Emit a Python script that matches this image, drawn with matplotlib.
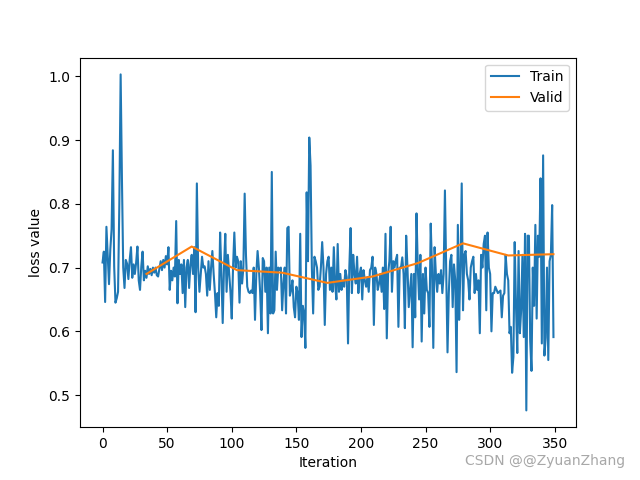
import matplotlib
matplotlib.use("Agg")
import matplotlib.pyplot as plt
import numpy as np

# ----- data ----------------------------------------------------------------
train_loss = [
    0.708, 0.725, 0.646, 0.764, 0.718, 0.674, 0.728, 0.760, 0.884, 0.702,
    0.645, 0.652, 0.662, 0.800, 1.003, 0.840, 0.700, 0.668, 0.712, 0.706,
    0.682, 0.712, 0.732, 0.684, 0.705, 0.690, 0.708, 0.733, 0.680, 0.665,
    0.702, 0.725, 0.680, 0.695, 0.684, 0.702, 0.690, 0.698, 0.688, 0.700,
    0.692, 0.700, 0.688, 0.686, 0.698, 0.710, 0.696, 0.712, 0.700, 0.718,
    0.705, 0.732, 0.665, 0.695, 0.680, 0.700, 0.686, 0.773, 0.644, 0.712,
    0.690, 0.705, 0.660, 0.712, 0.638, 0.700, 0.712, 0.668, 0.705, 0.720,
    0.690, 0.732, 0.630, 0.832, 0.700, 0.662, 0.690, 0.717, 0.700, 0.702,
    0.690, 0.656, 0.710, 0.665, 0.700, 0.726, 0.690, 0.660, 0.622, 0.660,
    0.640, 0.755, 0.690, 0.613, 0.700, 0.753, 0.662, 0.720, 0.690, 0.662,
    0.620, 0.700, 0.755, 0.700, 0.717, 0.710, 0.645, 0.710, 0.675, 0.700,
    0.816, 0.720, 0.670, 0.662, 0.660, 0.664, 0.660, 0.700, 0.618, 0.690,
    0.726, 0.700, 0.660, 0.602, 0.715, 0.710, 0.662, 0.700, 0.597, 0.700,
    0.628, 0.850, 0.628, 0.633, 0.725, 0.665, 0.700, 0.696, 0.700, 0.633,
    0.675, 0.700, 0.628, 0.762, 0.764, 0.656, 0.665, 0.680, 0.638, 0.622,
    0.670, 0.660, 0.618, 0.753, 0.591, 0.640, 0.628, 0.574, 0.818, 0.710,
    0.904, 0.860, 0.700, 0.628, 0.717, 0.710, 0.700, 0.665, 0.670, 0.700,
    0.740, 0.700, 0.610, 0.690, 0.710, 0.717, 0.665, 0.700, 0.662, 0.732,
    0.675, 0.650, 0.737, 0.662, 0.690, 0.665, 0.680, 0.670, 0.696, 0.685,
    0.581, 0.700, 0.762, 0.660, 0.720, 0.690, 0.675, 0.717, 0.660, 0.690,
    0.700, 0.650, 0.696, 0.680, 0.670, 0.685, 0.662, 0.696, 0.700, 0.717,
    0.610, 0.700, 0.690, 0.665, 0.675, 0.690, 0.662, 0.700, 0.635, 0.753,
    0.589, 0.690, 0.710, 0.764, 0.662, 0.710, 0.700, 0.712, 0.720, 0.607,
    0.700, 0.700, 0.716, 0.690, 0.605, 0.750, 0.700, 0.638, 0.665, 0.690,
    0.575, 0.690, 0.622, 0.785, 0.700, 0.650, 0.720, 0.584, 0.690, 0.628,
    0.700, 0.665, 0.660, 0.607, 0.769, 0.700, 0.574, 0.732, 0.690, 0.662,
    0.690, 0.675, 0.696, 0.660, 0.690, 0.821, 0.690, 0.567, 0.660, 0.710,
    0.720, 0.638, 0.705, 0.680, 0.536, 0.767, 0.618, 0.700, 0.832, 0.633,
    0.720, 0.726, 0.690, 0.680, 0.650, 0.700, 0.710, 0.717, 0.660, 0.690,
    0.665, 0.680, 0.597, 0.720, 0.700, 0.737, 0.750, 0.633, 0.755, 0.700,
    0.690, 0.600, 0.660, 0.660, 0.670, 0.665, 0.660, 0.662, 0.664, 0.622,
    0.656, 0.660, 0.720, 0.690, 0.680, 0.597, 0.607, 0.535, 0.560, 0.740,
    0.640, 0.566, 0.726, 0.597, 0.633, 0.720, 0.591, 0.753, 0.476, 0.750,
    0.750, 0.585, 0.538, 0.700, 0.640, 0.767, 0.620, 0.750, 0.717, 0.840,
    0.581, 0.876, 0.562, 0.590, 0.700, 0.555, 0.710, 0.720, 0.798, 0.591,
]
valid_iter = [34, 69, 104, 139, 174, 209, 244, 279, 314, 349]
valid_loss = [0.690, 0.733, 0.696, 0.692, 0.676, 0.686, 0.707, 0.738, 0.719, 0.721]

# ----- plot ------------------------------------------------------------------
fig, ax = plt.subplots(figsize=(6.4, 4.8), dpi=100)
ax.plot(np.arange(len(train_loss)), train_loss, label="Train")
ax.plot(valid_iter, valid_loss, label="Valid")
ax.set_xlabel("Iteration")
ax.set_ylabel("loss value")
ax.legend(loc="upper right")

# watermark from the source image
fig.text(0.977, 0.04, "CSDN @@ZyuanZhang", ha="right", va="center",
         fontsize=10, color="#a8a8a8")

fig.savefig("out.png", dpi=100)
plt.close(fig)
